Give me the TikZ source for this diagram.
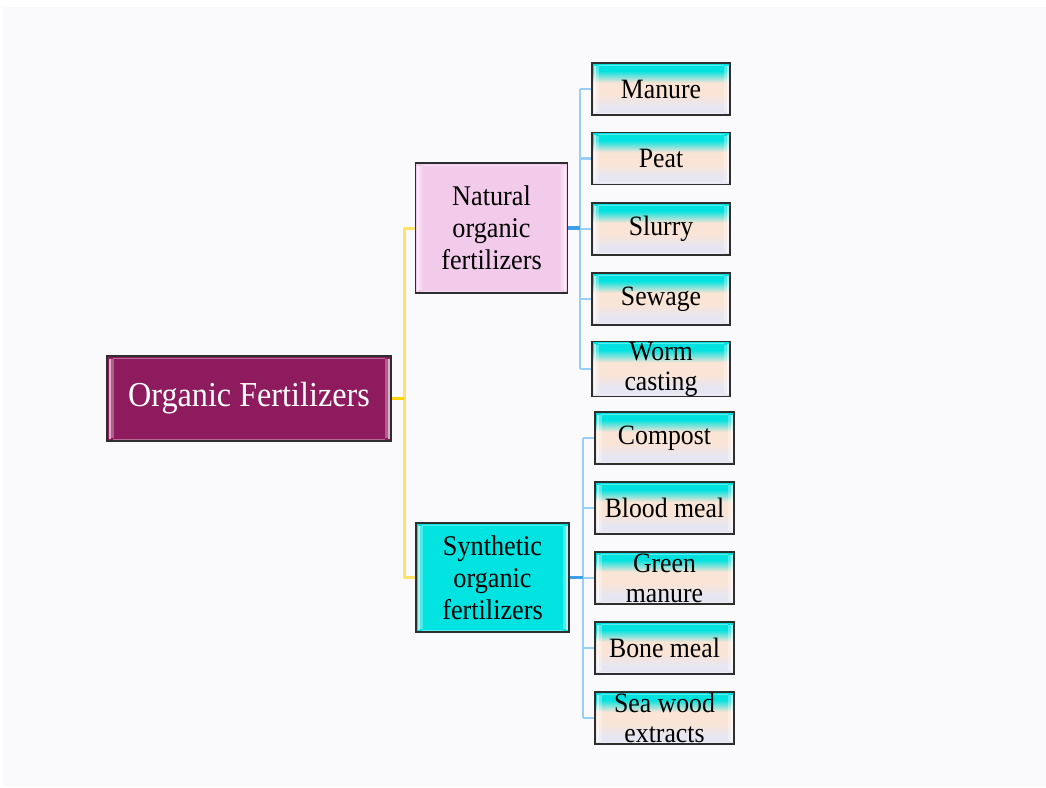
\documentclass[tikz,border=0pt]{standalone}
\usepackage{fontspec}
\setmainfont{Liberation Serif}
\newfontfamily\tallserif[FakeStretch=0.92]{Liberation Serif}
\usetikzlibrary{calc}

\definecolor{rootfill}{HTML}{8E1B5E}
\definecolor{natfill}{HTML}{F2CAEA}
\definecolor{synfill}{HTML}{00E3E0}
\definecolor{leafcyan}{HTML}{00E2E0}
\definecolor{leafpeach}{HTML}{FAE4D6}
\definecolor{leaflav}{HTML}{E6E6F2}
\definecolor{pagebg}{HTML}{FAFAFD}
\definecolor{trunkyel}{HTML}{FFE266}
\definecolor{rootyel}{HTML}{FFD400}
\definecolor{branchblue}{HTML}{98CFF5}
\definecolor{stemblue}{HTML}{3E9FE6}
\definecolor{boxline}{HTML}{2E2E2E}

% leaf gradient: lavender at the bottom, peach in the middle, cyan on top
\pgfdeclareverticalshading{leafshade}{100bp}{color(0bp)=(leaflav); color(33bp)=(leaflav); color(45bp)=(leafpeach); color(56bp)=(leafpeach); color(67.5bp)=(leafcyan); color(100bp)=(leafcyan)}

\tikzset{
  bevel/.style={path picture={
    \fill[white,opacity=.65] ([shift={(1.5pt,-2.5pt)}]path picture bounding box.north west) rectangle ([shift={(3.5pt,2.5pt)}]path picture bounding box.south west);
    \fill[white,opacity=.3] ([shift={(3.5pt,-3pt)}]path picture bounding box.north west) rectangle ([shift={(6.5pt,3pt)}]path picture bounding box.south west);
    \fill[white,opacity=.65] ([shift={(-3.5pt,-2.5pt)}]path picture bounding box.north east) rectangle ([shift={(-1.5pt,2.5pt)}]path picture bounding box.south east);
    \fill[white,opacity=.3] ([shift={(-6.5pt,-3pt)}]path picture bounding box.north east) rectangle ([shift={(-3.5pt,3pt)}]path picture bounding box.south east);
    \draw[white,opacity=.35,line width=1pt] ([shift={(6pt,-2pt)}]path picture bounding box.north west) -- ([shift={(-6pt,-2pt)}]path picture bounding box.north east);
    \draw[white,opacity=.35,line width=1pt] ([shift={(6pt,2pt)}]path picture bounding box.south west) -- ([shift={(-6pt,2pt)}]path picture bounding box.south east);
  }},
  box/.style={draw=boxline, line width=1.1pt, inner sep=0pt, align=center, bevel},
  rootbox/.style={box, fill=rootfill, text=white, minimum width=284pt, minimum height=85pt,
    font=\tallserif\fontsize{35}{40}\selectfont},
  midbox/.style={box, minimum width=152pt, font=\tallserif\fontsize{28.5}{32}\selectfont},
  leafbox/.style={box, shading=leafshade, minimum width=138pt, minimum height=52pt,
    font=\tallserif\fontsize{28}{30}\selectfont},
  trunk/.style={draw=trunkyel, line width=3pt},
  rootlink/.style={draw=rootyel, line width=3.5pt},
  branch/.style={draw=branchblue, line width=2.6pt},
  stem/.style={draw=stemblue, line width=3.5pt},
}

\begin{document}
\begin{tikzpicture}[x=1pt,y=-1pt]
  \useasboundingbox[fill=white] (0,0) rectangle (1046,787);
  \fill[pagebg] (3,7) rectangle (1046,787);

  % bus points of the connectors
  \coordinate (ybus) at (404,398.5);
  \coordinate (nbus) at (580,228);
  \coordinate (sbus) at (583,577.5);

  % root and the two families
  \node[rootbox] (root) at (249,398.5) {Organic Fertilizers};
  \node[midbox, fill=natfill, minimum height=130pt] (nat) at (491.5,228) {Natural\\organic\\fertilizers};
  \node[midbox, fill=synfill, minimum height=109pt, minimum width=153pt] (syn) at (492.5,577.5) {Synthetic\\organic\\fertilizers};

  % natural fertilizers
  \node[leafbox] (n1) at (661,89)    {Manure};
  \node[leafbox] (n2) at (661,158.5) {Peat};
  \node[leafbox] (n3) at (661,229)   {Slurry};
  \node[leafbox] (n4) at (661,299)   {Sewage};
  \node[leafbox] (n5) at (661,369)   {Worm\\casting};

  % synthetic fertilizers
  \node[leafbox, minimum width=139pt] (s1) at (664.5,438) {Compost};
  \node[leafbox, minimum width=139pt] (s2) at (664.5,508) {Blood meal};
  \node[leafbox, minimum width=139pt] (s3) at (664.5,578) {Green\\manure};
  \node[leafbox, minimum width=139pt] (s4) at (664.5,648) {Bone meal};
  \node[leafbox, minimum width=139pt] (s5) at (664.5,718) {Sea wood\\extracts};

  % yellow trunk from the root to both families
  \draw[trunk] (ybus |- nat.west) -- (ybus |- syn.west);
  \draw[trunk] (ybus |- nat.west) -- (nat.west);
  \draw[trunk] (ybus |- syn.west) -- (syn.west);
  \draw[rootlink] (root.east) -- (ybus);

  % blue branches to the natural fertilizers
  \draw[branch] (nbus |- n1.west) -- (nbus |- n5.west);
  \foreach \k in {n1,n2,n3,n4,n5}
    \draw[branch] (nbus |- \k.west) -- (\k.west);
  \draw[stem] (nat.east) -- (nbus);

  % blue branches to the synthetic fertilizers
  \draw[branch] (sbus |- s1.west) -- (sbus |- s5.west);
  \foreach \k in {s1,s2,s3,s4,s5}
    \draw[branch] (sbus |- \k.west) -- (\k.west);
  \draw[stem] (syn.east) -- (sbus);
\end{tikzpicture}
\end{document}
